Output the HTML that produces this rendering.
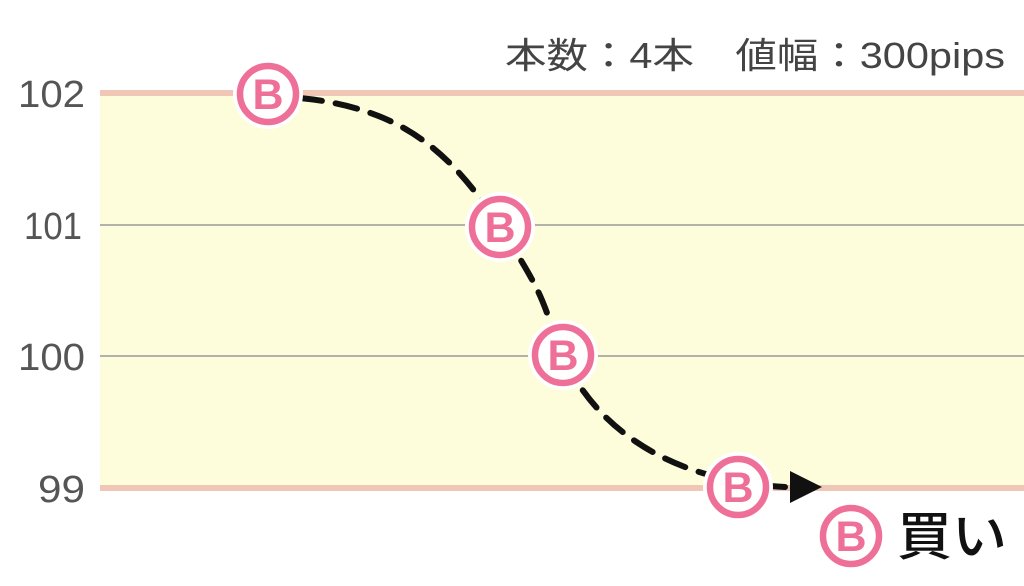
<!DOCTYPE html>
<html><head><meta charset="utf-8"><style>
body{margin:0;width:1024px;height:581px;background:#fff;overflow:hidden}
</style></head><body>
<svg width="1024" height="581" viewBox="0 0 1024 581" xmlns="http://www.w3.org/2000/svg">
<rect x="100" y="93" width="924" height="395" fill="#fdfcdb"/>
<line x1="100" y1="225" x2="1024" y2="225" stroke="#999" stroke-width="1.5"/>
<line x1="100" y1="356" x2="1024" y2="356" stroke="#999" stroke-width="1.5"/>
<line x1="100" y1="93" x2="1024" y2="93" stroke="#f0c7b6" stroke-width="6"/>
<line x1="100" y1="488" x2="1024" y2="488" stroke="#f0c7b6" stroke-width="6"/>
<g font-family="Liberation Sans, sans-serif" font-size="38" fill="#555">
<text x="18" y="107" textLength="67" lengthAdjust="spacingAndGlyphs">102</text>
<text x="24" y="239" textLength="58" lengthAdjust="spacingAndGlyphs">101</text>
<text x="18" y="370" textLength="67" lengthAdjust="spacingAndGlyphs">100</text>
<text x="38" y="502" textLength="47" lengthAdjust="spacingAndGlyphs">99</text>
</g>
<text x="505" y="68" textLength="500" lengthAdjust="spacingAndGlyphs" font-family="Liberation Sans, 'Noto Sans CJK JP', sans-serif" font-size="36" fill="#444">本数：4本　値幅：300pips</text>
<path d="M300,98 C400,108 450,150 500,227 S540,300 563,355 S650,480 785,487" fill="none" stroke="#111" stroke-width="6" stroke-dasharray="22,14" stroke-linecap="round"/>
<polygon points="790,471 822,487 790,503" fill="#111"/>
<defs><g id="b">
<circle r="35" fill="#fff"/>
<circle r="28" fill="#fff" stroke="#ee7099" stroke-width="6.5"/>
<text y="15" font-family="Liberation Sans, sans-serif" font-weight="bold" font-size="43" fill="#ee7099" text-anchor="middle">B</text>
</g></defs>
<use href="#b" x="268" y="94"/>
<use href="#b" x="500" y="227"/>
<use href="#b" x="563" y="355"/>
<use href="#b" x="738" y="487"/>
<use href="#b" x="851" y="536"/>
<text x="897" y="555" textLength="110" lengthAdjust="spacingAndGlyphs" font-family="'Noto Sans CJK JP', sans-serif" font-size="52" font-weight="500" fill="#111">買い</text>
</svg>
</body></html>
